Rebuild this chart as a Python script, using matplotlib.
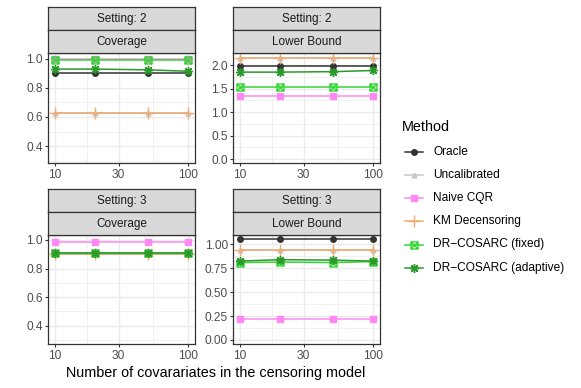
import matplotlib
matplotlib.use("Agg")
import matplotlib.pyplot as plt
from matplotlib.path import Path
from matplotlib.lines import Line2D

plt.rcParams['font.family'] = ['Liberation Sans', 'DejaVu Sans']

# ---------------- data ----------------
x_vals = [10, 20, 50, 100]
x_ticks = [10, 30, 100]
methods = ["Oracle", "Uncalibrated", "Naive CQR", "KM Decensoring",
           "DR\u2212COSARC (fixed)", "DR\u2212COSARC (adaptive)"]

s2_cov_oracle = [0.90, 0.90, 0.90, 0.90]
s2_cov_uncal = [0.625, 0.625, 0.625, 0.625]
s2_cov_naive = [1.00, 1.00, 1.00, 1.00]
s2_cov_km = [0.625, 0.625, 0.625, 0.625]
s2_cov_fixed = [0.99, 0.99, 0.99, 0.99]
s2_cov_adapt = [0.93, 0.93, 0.925, 0.915]

s2_lb_oracle = [1.98, 1.98, 1.98, 1.98]
s2_lb_uncal = [2.15, 2.15, 2.15, 2.15]
s2_lb_naive = [1.35, 1.35, 1.35, 1.35]
s2_lb_km = [2.15, 2.15, 2.15, 2.15]
s2_lb_fixed = [1.53, 1.53, 1.53, 1.53]
s2_lb_adapt = [1.85, 1.85, 1.86, 1.885]

s3_cov_oracle = [0.90, 0.90, 0.90, 0.90]
s3_cov_uncal = [0.90, 0.90, 0.90, 0.90]
s3_cov_naive = [0.985, 0.985, 0.985, 0.985]
s3_cov_km = [0.90, 0.90, 0.90, 0.90]
s3_cov_fixed = [0.91, 0.91, 0.91, 0.91]
s3_cov_adapt = [0.912, 0.912, 0.912, 0.912]

s3_lb_oracle = [1.053, 1.053, 1.053, 1.053]
s3_lb_uncal = [0.94, 0.94, 0.94, 0.94]
s3_lb_naive = [0.22, 0.22, 0.22, 0.22]
s3_lb_km = [0.94, 0.94, 0.94, 0.94]
s3_lb_fixed = [0.81, 0.815, 0.81, 0.82]
s3_lb_adapt = [0.825, 0.84, 0.835, 0.825]

cov_ticks = [0.4, 0.6, 0.8, 1.0]
cov_labels = ["0.4", "0.6", "0.8", "1.0"]
lb2_ticks = [0.0, 0.5, 1.0, 1.5, 2.0]
lb2_labels = ["0.0", "0.5", "1.0", "1.5", "2.0"]
lb3_ticks = [0.0, 0.25, 0.5, 0.75, 1.0]
lb3_labels = ["0.00", "0.25", "0.50", "0.75", "1.00"]

# ---------------- styles ----------------
colors = ["#333333", "#C8C8C8", "#FF88F4", "#F0AC70", "#33D633", "#2A9A2A"]

sq_x = Path([(-1, -1), (1, -1), (1, 1), (-1, 1), (-1, -1),
             (-1, -1), (1, 1), (-1, 1), (1, -1)],
            [Path.MOVETO, Path.LINETO, Path.LINETO, Path.LINETO, Path.CLOSEPOLY,
             Path.MOVETO, Path.LINETO, Path.MOVETO, Path.LINETO])
markers = ["o", "^", "s", "+", sq_x, (8, 2, 0)]
msizes = [4, 3.5, 4.5, 8, 5, 6.5]
filled = [True, True, True, False, False, False]

W, H = 581, 388
fig = plt.figure(figsize=(W / 100, H / 100), dpi=100)


def fx(px):
    return px / W


def fy(py):
    return 1 - py / H


panels = [
    dict(x0=48.3, x1=195.0, y0=53.0, y1=163.0, setting="Setting: 2", metric="Coverage",
         data=[s2_cov_oracle, s2_cov_uncal, s2_cov_naive, s2_cov_km, s2_cov_fixed, s2_cov_adapt],
         ylim=(0.283, 1.041), ticks=cov_ticks, labels=cov_labels,
         minor=[0.3, 0.5, 0.7, 0.9], strip_top=7.3),
    dict(x0=233.3, x1=380.0, y0=53.0, y1=163.0, setting="Setting: 2", metric="Lower Bound",
         data=[s2_lb_oracle, s2_lb_uncal, s2_lb_naive, s2_lb_km, s2_lb_fixed, s2_lb_adapt],
         ylim=(-0.084, 2.257), ticks=lb2_ticks, labels=lb2_labels,
         minor=[0.25, 0.75, 1.25, 1.75], strip_top=7.3),
    dict(x0=48.3, x1=195.0, y0=235.0, y1=344.0, setting="Setting: 3", metric="Coverage",
         data=[s3_cov_oracle, s3_cov_uncal, s3_cov_naive, s3_cov_km, s3_cov_fixed, s3_cov_adapt],
         ylim=(0.272, 1.035), ticks=cov_ticks, labels=cov_labels,
         minor=[0.3, 0.5, 0.7, 0.9], strip_top=189.3),
    dict(x0=233.3, x1=380.0, y0=235.0, y1=344.0, setting="Setting: 3", metric="Lower Bound",
         data=[s3_lb_oracle, s3_lb_uncal, s3_lb_naive, s3_lb_km, s3_lb_fixed, s3_lb_adapt],
         ylim=(-0.042, 1.098), ticks=lb3_ticks, labels=lb3_labels,
         minor=[0.125, 0.375, 0.625, 0.875], strip_top=189.3),
]

border_col = "#333333"
tick_col = "#4D4D4D"

for p in panels:
    ax = fig.add_axes([fx(p["x0"]), fy(p["y1"]), fx(p["x1"] - p["x0"]), (p["y1"] - p["y0"]) / H])
    ax.set_xscale("log")
    ax.set_xlim(10 ** 0.95, 10 ** 2.05)
    ax.set_ylim(*p["ylim"])
    ax.set_facecolor("white")
    for t in p["ticks"]:
        ax.axhline(t, color="#EBEBEB", lw=1.0, zorder=0)
    for t in p["minor"]:
        ax.axhline(t, color="#EBEBEB", lw=0.5, zorder=0)
    for t in x_ticks:
        ax.axvline(t, color="#EBEBEB", lw=1.0, zorder=0)
    for t in [10 ** 1.2386, 10 ** 1.7386]:
        ax.axvline(t, color="#EBEBEB", lw=0.5, zorder=0)
    for i, vals in enumerate(p["data"]):
        ax.plot(x_vals, vals, color=colors[i], lw=1.1, marker=markers[i],
                ms=msizes[i], mfc=colors[i] if filled[i] else "none",
                mec=colors[i], mew=1.0, zorder=2 + i)
    ax.set_xticks(x_ticks)
    ax.set_xticklabels(["10", "30", "100"])
    ax.xaxis.set_minor_locator(matplotlib.ticker.NullLocator())
    ax.set_yticks(p["ticks"])
    ax.set_yticklabels(p["labels"])
    ax.tick_params(axis="both", length=2.5, width=0.8, color=border_col,
                   labelcolor=tick_col, labelsize=8.6, pad=1.5)
    for s in ax.spines.values():
        s.set_color(border_col)
        s.set_linewidth(0.9)
    sh = (p["y0"] - p["strip_top"]) / 2
    for k, txt in enumerate([p["setting"], p["metric"]]):
        top = p["strip_top"] + k * sh
        sax = fig.add_axes([fx(p["x0"]), fy(top + sh), fx(p["x1"] - p["x0"]), sh / H])
        sax.set_facecolor("#D9D9D9")
        sax.set_xticks([])
        sax.set_yticks([])
        for s in sax.spines.values():
            s.set_color(border_col)
            s.set_linewidth(0.9)
        sax.text(0.5, 0.5, txt, ha="center", va="center", fontsize=8.5,
                 color="#1A1A1A", transform=sax.transAxes)

fig.text(fx(216), fy(373), "Number of covarariates in the censoring model",
         ha="center", va="center", fontsize=10.4, color="black")

# legend (manual placement)
fig.text(fx(402), fy(127), "Method", ha="left", va="center", fontsize=10.4, color="black")
leg_y = [152.3, 175.3, 198.3, 221.3, 244.5, 267.7]
for i, m in enumerate(methods):
    yy = fy(leg_y[i])
    fig.add_artist(Line2D([fx(405), fx(423)], [yy, yy], color=colors[i], lw=1.1,
                          transform=fig.transFigure))
    fig.add_artist(Line2D([fx(414)], [yy], color=colors[i], lw=0, marker=markers[i],
                          ms=msizes[i], mfc=colors[i] if filled[i] else "none",
                          mec=colors[i], mew=1.0, transform=fig.transFigure))
    fig.text(fx(433), yy, m, ha="left", va="center", fontsize=8.6, color="black")

fig.savefig("out.png", dpi=100)
